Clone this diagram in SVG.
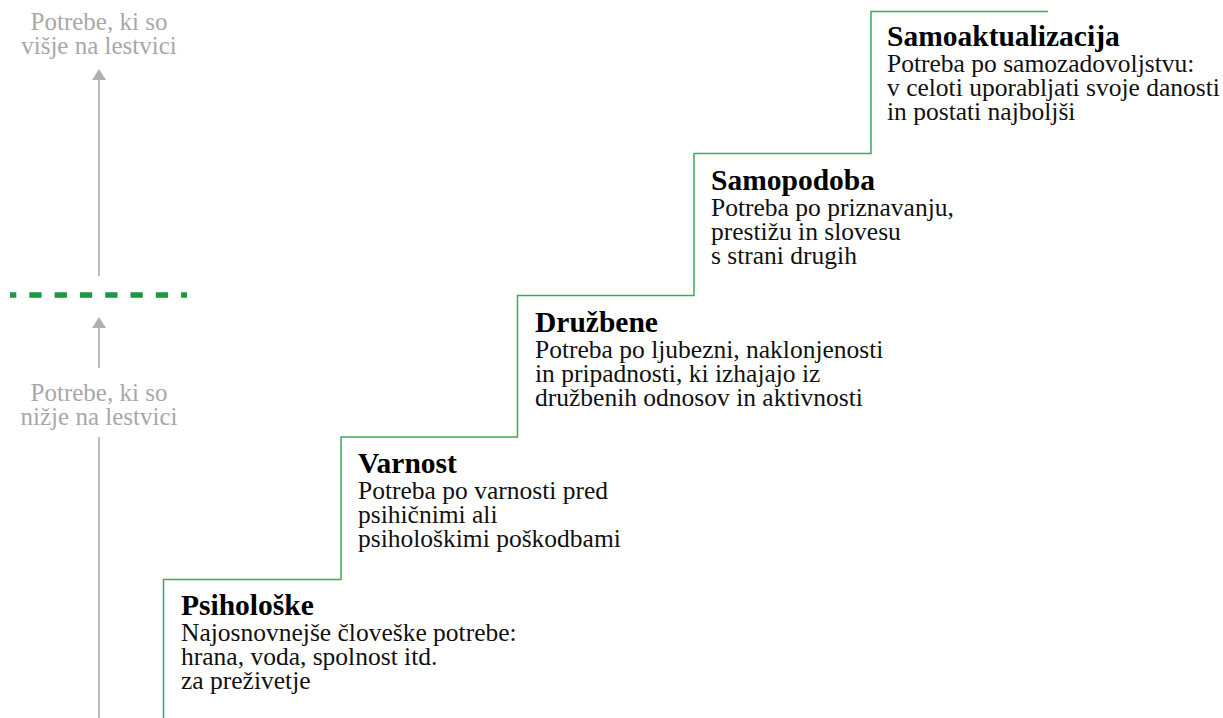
<svg xmlns="http://www.w3.org/2000/svg" width="1223" height="718" viewBox="0 0 1223 718">
<style>
text{font-family:'Liberation Serif','Times New Roman',Times,serif}
.gray{font-size:25px;fill:#a8a8a8;text-anchor:middle}
.head{font-size:29.5px;font-weight:bold;fill:#000}
.body{font-size:25.5px;fill:#111}
.axis{stroke:#bdbdbd;stroke-width:2;fill:none}
.arrowhead{fill:#b0b0b0}
</style>
<rect width="1223" height="718" fill="#fff"/>
<g id="axis">
<line class="axis" x1="99" y1="79" x2="99" y2="276"/>
<polygon class="arrowhead" points="99,69 92,80 106,80"/>
<line class="axis" x1="99" y1="327" x2="99" y2="368"/>
<polygon class="arrowhead" points="99,317 92,328 106,328"/>
<line class="axis" x1="99" y1="437" x2="99" y2="718"/>
<text class="gray" x="99" y="29.5">Potrebe, ki so</text>
<text class="gray" x="99" y="53.5">višje na lestvici</text>
<text class="gray" x="99" y="401">Potrebe, ki so</text>
<text class="gray" x="99" y="425">nižje na lestvici</text>
</g>
<g id="divider">
<line x1="10" y1="295" x2="187" y2="295" stroke="#1e9642" stroke-width="5.5" stroke-dasharray="12.3 13" stroke-dashoffset="6"/>
</g>
<g id="connectors">
<path d="M163.5,718 V579.5 H341 V437 H517.5 V295.5 H694 V153.5 H871 V11.5 H1048" fill="none" stroke="#3aaa5c" stroke-width="1.5"/>
</g>
<g id="psiholoske">
<text class="head" x="181" y="615">Psihološke</text>
<text class="body" x="181" y="641">Najosnovnejše človeške potrebe:</text>
<text class="body" x="181" y="665">hrana, voda, spolnost itd.</text>
<text class="body" x="181" y="689">za preživetje</text>
</g>
<g id="varnost">
<text class="head" x="358" y="473">Varnost</text>
<text class="body" x="358" y="499">Potreba po varnosti pred</text>
<text class="body" x="358" y="523">psihičnimi ali</text>
<text class="body" x="358" y="547">psihološkimi poškodbami</text>
</g>
<g id="druzbene">
<text class="head" x="535" y="332">Družbene</text>
<text class="body" x="535" y="358">Potreba po ljubezni, naklonjenosti</text>
<text class="body" x="535" y="382">in pripadnosti, ki izhajajo iz</text>
<text class="body" x="535" y="406">družbenih odnosov in aktivnosti</text>
</g>
<g id="samopodoba">
<text class="head" x="711" y="190">Samopodoba</text>
<text class="body" x="711" y="216">Potreba po priznavanju,</text>
<text class="body" x="711" y="240">prestižu in slovesu</text>
<text class="body" x="711" y="264">s strani drugih</text>
</g>
<g id="samoaktualizacija">
<text class="head" x="887" y="46">Samoaktualizacija</text>
<text class="body" x="887" y="72">Potreba po samozadovoljstvu:</text>
<text class="body" x="887" y="96">v celoti uporabljati svoje danosti</text>
<text class="body" x="887" y="120">in postati najboljši</text>
</g>
</svg>
